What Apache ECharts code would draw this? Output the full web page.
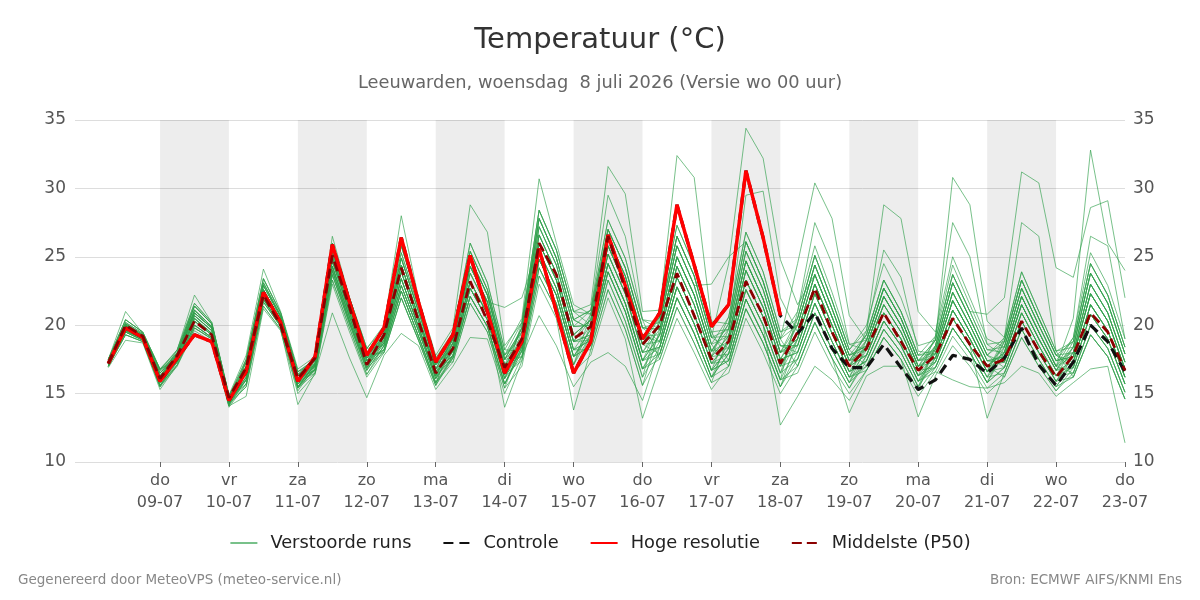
<!DOCTYPE html>
<html>
<head>
<meta charset="utf-8">
<title>Temperatuur</title>
<script src="https://cdn.jsdelivr.net/npm/echarts@6/dist/echarts.min.js"></script>
<style>
html, body { margin: 0; padding: 0; background: #fff; }
#main { width: 1200px; height: 600px; }
</style>
</head>
<body>
<div id="main"></div>
<script>
// tijdstappen in uren t.o.v. do 09-07 00 uur (6-uurlijks)
var hours = [-18, -12, -6, 0, 6, 12, 18, 24, 30, 36, 42, 48, 54, 60, 66, 72, 78, 84, 90, 96,
	102, 108, 114, 120, 126, 132, 138, 144, 150, 156, 162, 168, 174, 180, 186, 192, 198, 204, 210, 216,
	222, 228, 234, 240, 246, 252, 258, 264, 270, 276, 282, 288, 294, 300, 306, 312, 318, 324, 330, 336];

// x-as labels
var tickHours = [0, 24, 48, 72, 96, 120, 144, 168, 192, 216, 240, 264, 288, 312, 336];
var dayNames = ['do', 'vr', 'za', 'zo', 'ma', 'di', 'wo', 'do', 'vr', 'za', 'zo', 'ma', 'di', 'wo', 'do'];
var dayDates = ['09-07', '10-07', '11-07', '12-07', '13-07', '14-07', '15-07', '16-07', '17-07', '18-07',
	'19-07', '20-07', '21-07', '22-07', '23-07'];
// grijze dagen (start in uren)
var shadedDays = [0, 48, 96, 144, 192, 240, 288];

// hoge resolutie (tot 18-07)
var hres = [17.2, 19.8, 19.1, 15.9, 17.6, 19.3, 18.8, 14.5, 16.6, 22.4, 20.2, 15.9, 17.7, 25.9, 21.7, 17.8,
	19.8, 26.4, 21.7, 17.3, 19.3, 25.1, 21.0, 16.5, 18.8, 25.6, 21.0, 16.5, 18.8, 26.6, 22.9, 19.0,
	20.9, 28.8, 24.4, 19.9, 21.5, 31.3, 26.4, 20.7];

// controle run
var control = [17.2, 19.8, 19.1, 15.9, 17.6, 19.3, 18.8, 14.5, 16.6, 22.4, 20.2, 15.9, 17.7, 25.9, 21.7, 17.8,
	19.8, 26.4, 21.7, 17.3, 19.3, 25.1, 21.0, 16.5, 18.8, 25.6, 21.0, 16.5, 18.8, 26.6, 22.9, 19.0,
	20.9, 28.8, 24.4, 19.9, 21.5, 31.3, 26.4, 20.7, 19.4, 20.9, 18.3, 16.9, 16.9, 18.6, 16.9, 15.3,
	16.0, 17.8, 17.5, 16.5, 17.6, 19.8, 17.1, 15.6, 17.3, 20.0, 18.8, 16.6];

// mediaan van de pluim
var p50 = [17.2, 20.0, 19.2, 16.1, 17.8, 20.3, 19.3, 14.7, 16.9, 22.2, 20.0, 16.1, 17.6, 25.1, 21.3, 17.1,
	19.3, 24.2, 20.3, 16.5, 18.3, 23.2, 20.3, 16.9, 19.0, 26.0, 23.7, 19.0, 19.9, 26.5, 22.6, 18.6,
	20.0, 23.8, 20.7, 17.5, 18.8, 23.2, 20.7, 17.2, 19.5, 22.7, 19.5, 17.0, 18.3, 20.9, 18.8, 16.7,
	17.8, 20.5, 18.6, 17.0, 17.5, 20.3, 18.1, 16.2, 17.8, 20.9, 19.5, 16.7];

// verstoorde runs
var run01 = [17.3, 19.9, 19.2, 16.2, 17.5, 20.5, 19.4, 14.4, 16.8, 22.6, 20.4, 16.1, 17.5, 25.6, 21.7, 18.0,
	19.8, 25.8, 21.7, 17.6, 19.2, 25.4, 22.6, 17.8, 19.5, 27.2, 24.4, 19.9, 20.0, 25.8, 22.9, 18.6,
	21.1, 32.4, 30.8, 20.3, 20.1, 26.1, 23.2, 19.0, 20.0, 24.4, 21.2, 17.8, 18.5, 22.1, 20.0, 17.0,
	17.9, 21.8, 19.5, 17.0, 18.0, 22.1, 19.5, 17.0, 18.4, 23.8, 21.6, 17.9];
var run02 = [17.1, 19.6, 19.0, 15.8, 17.7, 20.7, 19.6, 14.5, 16.2, 22.2, 20.2, 15.7, 16.7, 23.7, 20.1, 16.7,
	18.5, 22.9, 19.6, 16.1, 18.1, 23.2, 20.8, 16.4, 19.1, 26.6, 23.8, 19.3, 20.4, 26.4, 23.6, 19.2,
	20.6, 26.5, 23.6, 19.1, 24.5, 34.4, 32.2, 24.8, 21.5, 23.7, 20.6, 17.4, 17.8, 20.9, 19.0, 16.3,
	17.3, 20.5, 18.5, 16.2, 16.5, 19.7, 17.5, 15.5, 17.3, 21.5, 19.6, 16.2];
var run03 = [17.4, 20.1, 19.3, 16.5, 17.8, 20.9, 19.8, 14.6, 16.5, 22.4, 20.3, 15.9, 17.2, 25.0, 21.2, 17.6,
	18.9, 23.9, 20.3, 16.6, 17.8, 22.7, 20.4, 16.1, 17.7, 24.2, 21.6, 17.1, 19.3, 24.5, 21.6, 17.4,
	18.4, 22.8, 20.1, 16.7, 17.4, 21.9, 19.3, 16.0, 18.5, 22.3, 19.4, 16.6, 18.5, 22.1, 20.0, 17.0,
	18.9, 23.7, 21.0, 20.8, 22.0, 31.2, 30.4, 24.2, 23.5, 28.6, 29.1, 22.0];
var run04 = [17.0, 19.5, 18.9, 15.6, 17.4, 20.3, 19.3, 14.3, 16.5, 22.4, 20.3, 15.9, 17.0, 24.3, 20.6, 17.1,
	19.1, 24.4, 20.6, 16.8, 19.0, 24.9, 22.2, 17.5, 19.8, 27.8, 24.9, 20.4, 21.1, 27.7, 24.9, 20.4,
	19.7, 25.0, 22.2, 18.1, 18.8, 24.0, 21.3, 17.5, 18.0, 21.6, 18.8, 16.2, 17.0, 19.7, 18.0, 15.5,
	17.6, 21.1, 19.0, 16.6, 18.0, 22.1, 19.5, 17.0, 20.5, 32.8, 26.0, 24.0];
var run05 = [17.3, 20.0, 19.2, 16.3, 17.9, 21.1, 19.9, 14.7, 17.3, 23.1, 20.7, 16.4, 17.1, 24.7, 20.9, 17.4,
	18.7, 23.4, 19.9, 16.3, 17.6, 22.1, 19.9, 15.7, 18.1, 24.8, 22.2, 17.7, 19.7, 25.2, 22.3, 18.0,
	20.2, 25.8, 22.9, 18.6, 19.2, 24.7, 21.9, 18.0, 20.5, 25.1, 21.8, 18.2, 19.6, 28.8, 27.8, 21.0,
	19.5, 25.0, 22.0, 19.0, 18.4, 22.7, 20.0, 17.4, 17.7, 22.3, 20.3, 16.8];
var run06 = [17.2, 19.7, 19.1, 16.0, 17.3, 20.0, 19.1, 14.2, 15.5, 21.4, 19.7, 14.2, 16.5, 23.3, 19.8, 16.4,
	18.2, 22.5, 19.2, 15.8, 17.3, 21.6, 19.5, 15.4, 17.0, 23.0, 20.5, 13.8, 18.2, 22.6, 19.7, 15.6,
	17.9, 22.0, 19.4, 16.2, 17.9, 22.6, 20.0, 12.7, 14.8, 17.0, 16.0, 14.5, 16.7, 19.1, 17.5, 13.3,
	16.3, 18.5, 17.0, 15.0, 16.2, 19.1, 17.0, 15.2, 16.5, 20.0, 18.3, 15.1];
var run07 = [17.5, 21.0, 19.4, 16.7, 18.2, 21.6, 20.2, 14.9, 17.0, 22.9, 20.6, 16.3, 17.7, 26.0, 22.0, 18.3,
	20.0, 28.0, 22.0, 17.8, 19.8, 28.8, 26.8, 18.5, 20.2, 28.4, 25.5, 21.0, 20.8, 27.0, 24.2, 19.8,
	19.7, 25.0, 22.2, 18.1, 18.3, 23.3, 20.6, 17.0, 19.0, 23.0, 20.0, 17.0, 18.9, 22.7, 20.5, 17.4,
	18.2, 22.4, 20.0, 17.4, 17.7, 21.5, 19.0, 16.7, 16.9, 20.8, 19.0, 15.7];
var run08 = [17.0, 19.3, 18.8, 15.5, 17.3, 20.0, 19.1, 14.2, 16.0, 21.9, 20.0, 15.5, 16.8, 24.0, 20.3, 16.9,
	18.0, 22.0, 18.9, 15.6, 17.6, 22.1, 19.9, 15.7, 18.4, 25.4, 22.7, 18.2, 18.9, 23.9, 21.0, 16.8,
	18.8, 23.5, 20.8, 17.2, 18.8, 24.0, 21.3, 17.5, 20.0, 24.4, 21.2, 17.8, 19.3, 23.3, 21.0, 17.8,
	18.2, 22.4, 20.0, 17.4, 17.3, 20.9, 18.5, 16.3, 16.9, 20.8, 19.0, 15.7];
var run09 = [17.5, 20.4, 19.5, 16.8, 18.0, 21.4, 20.1, 14.8, 17.5, 23.4, 20.9, 16.6, 17.2, 25.0, 21.2, 17.6,
	19.3, 24.9, 21.0, 17.1, 18.7, 24.3, 21.7, 21.3, 22.0, 26.0, 23.3, 18.8, 18.9, 23.9, 21.0, 16.8,
	17.5, 21.3, 18.7, 15.8, 16.5, 20.5, 18.0, 15.0, 17.0, 20.2, 17.6, 15.4, 17.4, 20.3, 18.5, 15.9,
	17.6, 21.1, 19.0, 16.6, 16.9, 20.3, 18.0, 15.9, 16.2, 19.3, 17.7, 14.6];
var run10 = [17.3, 19.9, 19.2, 16.2, 17.8, 20.9, 19.8, 14.6, 16.5, 22.4, 20.3, 15.9, 17.0, 24.3, 20.6, 17.1,
	18.9, 23.9, 20.3, 16.6, 18.7, 24.3, 21.7, 17.1, 18.8, 26.0, 23.3, 18.8, 19.3, 24.5, 21.6, 17.4,
	19.3, 24.3, 21.5, 17.7, 19.2, 24.7, 21.9, 18.0, 19.0, 23.0, 20.0, 17.0, 17.8, 20.9, 19.0, 16.3,
	17.9, 21.8, 19.5, 17.0, 18.0, 22.1, 19.5, 17.0, 17.7, 22.3, 20.3, 16.8];
var run11 = [17.1, 19.6, 19.0, 15.8, 17.5, 20.5, 19.4, 14.4, 15.7, 21.7, 19.9, 15.4, 16.8, 24.0, 20.3, 16.9,
	18.7, 23.4, 19.9, 16.3, 18.4, 23.8, 21.3, 16.8, 18.1, 24.8, 22.2, 17.7, 18.5, 23.3, 20.3, 16.2,
	18.4, 22.8, 20.1, 16.7, 18.3, 23.3, 20.6, 17.0, 19.5, 23.7, 20.6, 17.4, 18.2, 21.5, 19.5, 16.7,
	18.5, 23.1, 20.5, 17.8, 18.8, 23.3, 20.5, 17.8, 18.0, 23.0, 20.9, 17.3];
var run12 = [17.3, 20.0, 19.2, 16.3, 17.7, 20.7, 19.6, 14.5, 17.0, 22.9, 20.6, 16.3, 17.4, 25.3, 21.5, 17.8,
	19.1, 24.4, 20.6, 16.8, 18.1, 23.2, 20.8, 16.4, 19.1, 26.6, 23.8, 19.3, 20.4, 26.4, 23.6, 19.2,
	20.6, 26.5, 23.6, 19.1, 19.7, 25.4, 22.6, 18.5, 18.5, 22.3, 19.4, 16.6, 17.4, 20.3, 18.5, 15.9,
	16.9, 19.8, 18.0, 15.8, 16.9, 20.3, 18.0, 15.9, 17.3, 21.5, 19.6, 16.2];
var run13 = [17.0, 19.5, 18.9, 15.6, 17.1, 19.8, 19.0, 14.1, 16.0, 21.9, 20.0, 15.5, 16.7, 23.7, 20.1, 16.7,
	18.5, 22.9, 19.6, 16.1, 17.8, 22.7, 20.4, 14.0, 17.4, 23.6, 21.1, 16.6, 17.8, 22.0, 19.0, 13.2,
	17.0, 20.5, 18.0, 15.3, 17.0, 21.2, 18.7, 15.5, 18.0, 21.6, 18.8, 16.2, 18.2, 21.5, 19.5, 16.7,
	18.2, 22.4, 20.0, 17.4, 17.7, 21.5, 19.0, 16.7, 18.4, 23.8, 21.6, 17.9];
var run14 = [17.4, 20.1, 19.3, 16.5, 18.0, 21.4, 20.1, 14.8, 16.8, 22.6, 20.4, 16.1, 17.5, 25.6, 21.7, 18.0,
	19.3, 24.9, 21.0, 17.1, 19.0, 24.9, 22.2, 17.5, 19.8, 27.8, 24.9, 20.4, 21.1, 27.7, 24.9, 20.4,
	20.2, 25.8, 22.9, 23.0, 25.0, 26.1, 23.2, 19.0, 21.0, 25.8, 22.4, 18.6, 18.9, 22.7, 20.5, 17.4,
	17.9, 21.8, 19.5, 17.0, 17.3, 20.9, 18.5, 16.3, 16.5, 20.0, 18.3, 15.1];
var run15 = [17.2, 19.7, 19.1, 16.0, 17.4, 20.3, 19.3, 14.3, 16.2, 22.2, 20.2, 15.7, 17.0, 24.3, 20.6, 17.1,
	18.2, 22.5, 19.2, 15.8, 17.6, 22.1, 19.9, 15.7, 18.1, 24.8, 22.2, 17.7, 19.3, 24.5, 21.6, 17.4,
	19.3, 24.3, 21.5, 17.7, 17.9, 22.6, 20.0, 16.5, 17.5, 20.9, 18.2, 15.8, 17.0, 19.7, 18.0, 15.5,
	17.3, 20.5, 18.5, 13.2, 16.5, 19.7, 17.5, 15.5, 16.2, 19.3, 17.7, 14.6];
var run16 = [17.5, 20.2, 19.4, 16.7, 17.9, 21.1, 19.9, 14.7, 17.3, 23.1, 20.7, 16.4, 17.4, 25.3, 21.5, 17.8,
	19.6, 25.3, 21.3, 17.3, 19.2, 25.4, 22.6, 17.8, 20.2, 28.4, 25.5, 21.0, 21.5, 31.6, 29.6, 21.0,
	21.1, 27.3, 24.3, 19.5, 19.7, 29.5, 29.8, 22.0, 19.5, 23.7, 20.6, 17.4, 19.3, 23.3, 21.0, 17.8,
	19.2, 24.4, 21.5, 18.6, 18.8, 23.3, 20.5, 17.8, 18.8, 24.5, 22.2, 18.4];
var run17 = [17.0, 19.3, 18.8, 15.5, 17.0, 19.6, 18.8, 14.0, 15.7, 21.7, 19.9, 15.4, 16.5, 20.9, 17.6, 14.7,
	17.8, 19.4, 18.5, 15.3, 17.0, 19.1, 19.0, 15.0, 17.7, 20.7, 18.5, 15.5, 17.3, 18.0, 17.0, 14.5,
	18.4, 22.8, 20.1, 16.7, 17.4, 21.9, 19.3, 16.0, 17.0, 20.2, 17.6, 13.6, 16.3, 17.0, 17.0, 14.8,
	16.6, 16.0, 15.5, 15.4, 15.8, 17.0, 16.5, 14.8, 15.8, 16.8, 17.0, 11.4];
var run18 = [17.3, 20.0, 19.2, 16.3, 17.9, 21.1, 19.9, 14.7, 16.8, 22.6, 20.4, 16.1, 17.1, 24.7, 20.9, 17.4,
	18.7, 23.4, 19.9, 16.3, 18.7, 24.3, 21.7, 17.1, 18.4, 25.4, 22.7, 18.2, 18.9, 23.9, 21.0, 16.8,
	17.9, 22.0, 19.4, 16.2, 17.9, 22.6, 20.0, 16.5, 19.0, 23.0, 20.0, 17.0, 18.5, 22.1, 20.0, 17.0,
	17.6, 21.1, 19.0, 16.6, 17.7, 21.5, 19.0, 16.7, 18.0, 23.0, 20.9, 17.3];
var run19 = [17.2, 19.7, 19.1, 16.0, 17.7, 20.7, 19.6, 14.5, 16.0, 21.9, 20.0, 15.5, 17.1, 24.7, 20.9, 17.4,
	19.1, 24.4, 20.6, 16.8, 19.0, 24.9, 22.2, 17.5, 19.5, 27.2, 24.4, 19.9, 20.0, 25.8, 22.9, 18.6,
	18.8, 23.5, 20.8, 17.2, 17.4, 21.9, 19.3, 16.0, 16.5, 19.5, 17.0, 15.0, 16.7, 19.1, 17.5, 15.2,
	16.9, 19.8, 18.0, 15.8, 16.9, 20.3, 18.0, 15.9, 17.7, 22.3, 20.3, 16.8];
var run20 = [17.5, 20.4, 19.5, 16.8, 18.2, 22.2, 20.2, 14.9, 17.8, 24.1, 21.0, 16.8, 17.7, 26.0, 22.0, 18.3,
	19.8, 25.8, 21.7, 17.6, 19.5, 26.0, 23.1, 18.2, 20.5, 30.7, 26.0, 21.5, 20.8, 27.0, 24.2, 19.8,
	20.2, 25.8, 22.9, 18.6, 20.6, 26.8, 23.9, 19.5, 20.5, 25.1, 21.8, 18.2, 20.0, 24.5, 22.0, 18.5,
	18.9, 30.8, 28.8, 20.3, 19.1, 23.9, 21.0, 18.1, 18.8, 24.5, 22.2, 18.4];
var run21 = [17.1, 19.6, 19.0, 15.8, 17.3, 20.0, 19.1, 14.2, 16.2, 22.2, 20.2, 15.7, 16.8, 24.0, 20.3, 16.9,
	18.9, 23.9, 20.3, 16.6, 18.1, 23.2, 20.8, 16.4, 18.1, 24.8, 22.2, 17.7, 19.7, 25.2, 22.3, 18.0,
	19.7, 25.0, 22.2, 18.1, 20.1, 26.1, 23.2, 19.0, 24.5, 30.4, 27.8, 20.7, 18.9, 22.7, 20.5, 17.4,
	18.9, 23.7, 21.0, 18.2, 18.4, 22.7, 20.0, 17.4, 19.1, 25.3, 22.9, 19.0];
var run22 = [17.3, 19.9, 19.2, 16.2, 17.8, 20.9, 19.8, 14.6, 17.0, 22.9, 20.6, 16.3, 17.2, 25.0, 21.2, 17.6,
	19.3, 24.9, 21.0, 17.1, 18.4, 23.8, 21.3, 16.8, 19.1, 26.6, 23.8, 19.3, 20.4, 26.4, 23.6, 19.2,
	19.3, 24.3, 21.5, 17.7, 19.2, 24.7, 21.9, 18.0, 18.5, 22.3, 19.4, 16.6, 17.4, 20.3, 18.5, 15.9,
	16.6, 19.2, 17.5, 15.4, 16.5, 19.7, 17.5, 15.5, 17.3, 21.5, 19.6, 16.2];
var run23 = [17.4, 20.1, 19.3, 16.5, 18.0, 21.4, 20.1, 14.8, 17.5, 23.4, 20.9, 16.6, 17.5, 25.6, 21.7, 18.0,
	19.1, 24.4, 20.6, 16.8, 19.0, 24.9, 22.2, 17.5, 18.8, 26.0, 23.3, 18.8, 19.3, 24.5, 21.6, 17.4,
	17.9, 22.0, 19.4, 16.2, 17.0, 21.2, 18.7, 15.5, 17.5, 20.9, 18.2, 15.8, 17.8, 20.9, 19.0, 16.3,
	17.3, 20.5, 18.5, 16.2, 17.7, 21.5, 19.0, 16.7, 17.3, 21.5, 19.6, 16.2];
var run24 = [16.9, 18.9, 18.7, 15.3, 17.1, 19.8, 19.0, 14.1, 14.8, 21.2, 19.6, 15.0, 16.4, 23.0, 19.5, 16.2,
	18.0, 22.0, 18.9, 15.6, 17.8, 22.7, 20.4, 16.1, 18.4, 25.4, 22.7, 18.2, 20.0, 25.8, 22.9, 18.6,
	20.6, 26.5, 23.6, 19.1, 19.2, 24.7, 21.9, 18.0, 20.0, 24.4, 21.2, 17.8, 18.5, 22.1, 20.0, 17.0,
	18.5, 23.1, 20.5, 17.8, 19.1, 23.9, 21.0, 18.1, 18.4, 23.8, 21.6, 17.9];
var run25 = [17.3, 19.9, 19.2, 16.2, 17.4, 20.3, 19.3, 14.3, 16.8, 22.6, 20.4, 16.1, 17.0, 24.3, 20.6, 17.1,
	19.3, 24.9, 21.0, 17.1, 18.4, 23.8, 21.3, 16.8, 19.8, 27.8, 24.9, 20.4, 19.7, 25.2, 22.3, 18.0,
	18.4, 22.8, 20.1, 16.7, 18.3, 23.3, 20.6, 17.0, 19.5, 23.7, 20.6, 17.4, 19.3, 23.3, 21.0, 17.8,
	17.9, 21.8, 19.5, 17.0, 18.4, 22.7, 20.0, 17.4, 18.0, 23.0, 20.9, 17.3];
var run26 = [17.0, 19.5, 18.9, 15.6, 17.5, 20.5, 19.4, 14.4, 16.0, 21.9, 20.0, 15.5, 17.1, 24.7, 20.9, 17.4,
	18.2, 22.5, 19.2, 15.8, 18.7, 24.3, 21.7, 17.1, 17.7, 24.2, 21.6, 17.1, 20.8, 27.0, 24.2, 19.8,
	19.7, 25.0, 22.2, 18.1, 19.7, 25.4, 22.6, 18.5, 18.5, 22.3, 19.4, 16.6, 17.4, 20.3, 18.5, 15.9,
	18.2, 22.4, 20.0, 17.4, 17.3, 20.9, 18.5, 16.3, 17.7, 22.3, 20.3, 16.8];
var run27 = [17.5, 20.2, 19.4, 16.7, 17.8, 20.9, 19.8, 14.6, 16.5, 22.4, 20.3, 15.9, 16.8, 24.0, 20.3, 16.9,
	18.7, 23.4, 19.9, 16.3, 19.2, 25.4, 22.6, 17.8, 19.1, 26.6, 23.8, 19.3, 18.9, 23.9, 21.0, 16.8,
	19.3, 24.3, 21.5, 17.7, 20.6, 26.8, 23.9, 19.5, 20.0, 24.4, 21.2, 17.8, 18.2, 21.5, 19.5, 16.7,
	17.6, 21.1, 19.0, 16.6, 18.8, 23.3, 20.5, 17.8, 16.9, 20.8, 19.0, 15.7];
var run28 = [17.2, 19.7, 19.1, 16.0, 17.9, 21.1, 19.9, 14.7, 15.7, 21.7, 19.9, 15.4, 17.2, 25.0, 21.2, 17.6,
	18.9, 23.9, 20.3, 16.6, 17.8, 22.7, 20.4, 16.1, 20.2, 28.4, 25.5, 21.0, 20.0, 25.8, 22.9, 18.6,
	17.9, 22.0, 19.4, 16.2, 18.8, 24.0, 21.3, 17.5, 18.0, 21.6, 18.8, 16.2, 18.9, 22.7, 20.5, 17.4,
	18.9, 23.7, 21.0, 18.2, 18.0, 22.1, 19.5, 17.0, 19.1, 26.5, 25.8, 19.0];
var run29 = [17.3, 20.0, 19.2, 16.3, 17.3, 20.0, 19.1, 14.2, 17.3, 23.1, 20.7, 16.4, 17.7, 26.5, 22.0, 18.3,
	18.5, 22.9, 19.6, 16.1, 18.1, 23.2, 20.8, 16.4, 17.4, 23.6, 21.1, 16.6, 19.3, 24.5, 21.6, 17.4,
	20.2, 25.8, 22.9, 18.6, 17.0, 21.2, 18.7, 15.5, 19.0, 23.0, 20.0, 17.0, 17.8, 20.9, 19.0, 16.3,
	16.9, 19.8, 18.0, 15.8, 18.4, 22.7, 20.0, 17.4, 17.7, 22.3, 20.3, 16.8];
var run30 = [17.1, 19.6, 19.0, 15.8, 18.0, 21.4, 20.1, 14.8, 16.8, 22.6, 20.4, 16.1, 16.7, 23.7, 20.1, 16.7,
	19.6, 25.3, 21.3, 17.3, 17.3, 21.6, 19.5, 15.4, 18.8, 26.0, 23.3, 18.8, 20.4, 26.4, 23.6, 19.2,
	18.8, 23.5, 20.8, 17.2, 17.9, 22.6, 20.0, 16.5, 20.5, 25.1, 21.8, 18.2, 17.0, 19.7, 18.0, 15.5,
	18.5, 23.1, 20.5, 17.8, 16.9, 20.3, 18.0, 15.9, 18.0, 23.0, 20.9, 17.3];
var run31 = [17.4, 20.1, 19.3, 16.5, 17.7, 20.7, 19.6, 14.5, 16.2, 22.2, 20.2, 15.7, 17.4, 25.3, 21.5, 17.8,
	18.0, 22.0, 18.9, 15.6, 19.5, 26.0, 23.1, 18.2, 18.1, 24.8, 22.2, 17.7, 18.5, 23.3, 20.3, 16.2,
	20.6, 26.5, 23.6, 19.1, 18.3, 23.3, 20.6, 17.0, 17.5, 20.9, 18.2, 15.8, 18.5, 22.1, 20.0, 17.0,
	17.3, 20.5, 18.5, 16.2, 18.8, 23.3, 20.5, 17.8, 17.3, 21.5, 19.6, 16.2];
var run32 = [17.0, 19.3, 18.8, 15.5, 17.8, 20.9, 19.8, 14.6, 17.0, 22.9, 20.6, 16.3, 17.1, 24.7, 20.9, 17.4,
	19.1, 24.4, 20.6, 16.8, 18.1, 23.2, 20.8, 16.4, 19.5, 27.2, 24.4, 19.9, 21.1, 29.5, 26.5, 20.4,
	17.5, 21.3, 18.7, 15.8, 19.2, 24.7, 21.9, 18.0, 19.0, 23.0, 20.0, 17.0, 19.6, 25.5, 23.5, 18.1,
	17.9, 21.8, 19.5, 17.0, 16.2, 19.1, 17.0, 15.2, 16.9, 20.8, 19.0, 15.7];
var run33 = [17.5, 20.4, 19.5, 16.8, 17.4, 20.3, 19.3, 14.3, 15.5, 21.4, 19.7, 15.2, 17.0, 24.3, 20.6, 17.1,
	19.8, 25.8, 21.7, 17.6, 17.6, 22.1, 19.9, 15.7, 18.4, 25.4, 22.7, 18.2, 18.2, 22.6, 19.7, 15.6,
	19.7, 25.0, 22.2, 18.1, 20.1, 26.1, 23.2, 19.0, 17.0, 20.2, 17.6, 15.4, 17.8, 20.9, 19.0, 16.3,
	19.2, 27.5, 25.0, 18.6, 17.7, 21.5, 19.0, 16.7, 18.8, 24.5, 22.2, 18.4];
var run34 = [17.3, 19.9, 19.2, 16.2, 18.2, 21.6, 20.2, 14.9, 16.5, 22.4, 20.3, 15.9, 16.5, 23.3, 19.8, 16.4,
	18.5, 22.9, 19.6, 16.1, 19.0, 24.9, 22.2, 17.5, 17.7, 24.2, 21.6, 17.1, 20.0, 25.8, 22.9, 18.6,
	21.1, 27.3, 24.3, 19.5, 17.4, 21.9, 19.3, 16.0, 21.0, 27.5, 24.5, 18.6, 18.2, 21.5, 19.5, 16.7,
	16.9, 19.8, 18.0, 15.8, 18.0, 22.1, 19.5, 17.0, 16.5, 20.0, 18.3, 15.1];
var run35 = [17.0, 19.5, 18.9, 15.6, 17.1, 19.8, 19.0, 14.1, 17.5, 23.4, 20.9, 16.6, 17.5, 25.6, 21.7, 18.0,
	18.7, 23.4, 19.9, 16.3, 18.7, 24.3, 21.7, 17.1, 19.8, 27.8, 24.9, 20.4, 19.7, 25.2, 22.3, 18.0,
	18.4, 22.8, 20.1, 16.7, 19.7, 25.4, 22.6, 18.5, 18.0, 21.6, 18.8, 16.2, 16.7, 19.1, 17.5, 15.2,
	18.5, 23.1, 20.5, 17.8, 17.3, 20.9, 18.5, 16.3, 18.4, 23.8, 21.6, 17.9];
var run36 = [17.3, 20.0, 19.2, 16.3, 17.5, 20.5, 19.4, 14.4, 16.0, 21.9, 20.0, 15.5, 17.2, 25.0, 21.2, 17.6,
	18.2, 22.5, 19.2, 15.8, 17.8, 22.7, 20.4, 16.1, 18.8, 26.0, 23.3, 18.8, 20.8, 27.0, 24.2, 19.8,
	18.8, 23.5, 20.8, 17.2, 18.8, 24.0, 21.3, 17.5, 19.5, 23.7, 20.6, 17.4, 18.9, 22.7, 20.5, 17.4,
	17.6, 21.1, 19.0, 16.6, 19.1, 27.5, 26.5, 18.1, 16.2, 19.3, 17.7, 14.6];

var runs = [run01, run02, run03, run04, run05, run06, run07, run08, run09, run10, run11, run12,
	run13, run14, run15, run16, run17, run18, run19, run20, run21, run22, run23, run24,
	run25, run26, run27, run28, run29, run30, run31, run32, run33, run34, run35, run36];

var FONT = 'DejaVu Sans';

// koppel waarden aan tijdstappen
function pairs(values) {
	var out = [];
	for (var i = 0; i < values.length; i++) {
		out.push([hours[i], values[i]]);
	}
	return out;
}

var series = [];
// grijze achtergrond voor om-en-om dagen
series.push({
	type : 'line',
	data : [],
	silent : true,
	z : 1,
	markArea : {
		silent : true,
		itemStyle : { color : 'rgba(0,0,0,0.07)' },
		data : shadedDays.map(function(h) {
			return [ { xAxis : h }, { xAxis : h + 24 } ];
		})
	}
});
runs.forEach(function(r) {
	series.push({
		name : 'Verstoorde runs',
		type : 'line',
		data : pairs(r),
		symbol : 'none',
		silent : true,
		z : 2,
		lineStyle : { width : 1, color : '#30a04b', opacity : 0.65 },
		itemStyle : { color : '#30a04b' }
	});
});
series.push({
	name : 'Controle',
	type : 'line',
	data : pairs(control),
	symbol : 'none',
	z : 3,
	lineStyle : { width : 3.2, color : '#111', type : [ 10, 6 ] },
	itemStyle : { color : '#111' }
});
series.push({
	name : 'Hoge resolutie',
	type : 'line',
	data : pairs(hres),
	symbol : 'none',
	z : 4,
	lineStyle : { width : 3.5, color : '#ff0000' },
	itemStyle : { color : '#ff0000' }
});
series.push({
	name : 'Middelste (P50)',
	type : 'line',
	data : pairs(p50),
	symbol : 'none',
	z : 5,
	lineStyle : { width : 2.8, color : '#8b0000', type : [ 10, 5 ] },
	itemStyle : { color : '#8b0000' }
});

var option = {
	backgroundColor : '#fff',
	animation : false,
	textStyle : { fontFamily : FONT },
	title : [ {
		text : 'Temperatuur (°C)',
		left : 'center',
		top : 21,
		textStyle : { fontSize : 29, fontWeight : 'normal', color : '#333', fontFamily : FONT }
	}, {
		text : 'Leeuwarden, woensdag  8 juli 2026 (Versie wo 00 uur)',
		left : 'center',
		top : 69,
		textStyle : { fontSize : 17.8, fontWeight : 'normal', color : '#666', fontFamily : FONT }
	}, {
		text : 'Gegenereerd door MeteoVPS (meteo-service.nl)',
		left : 13,
		top : 568,
		textStyle : { fontSize : 13.5, fontWeight : 'normal', color : '#888', fontFamily : FONT }
	}, {
		text : 'Bron: ECMWF AIFS/KNMI Ens',
		right : 13,
		top : 568,
		textStyle : { fontSize : 13.5, fontWeight : 'normal', color : '#888', fontFamily : FONT }
	} ],
	legend : {
		data : [ 'Verstoorde runs', 'Controle', 'Hoge resolutie', 'Middelste (P50)' ],
		left : 'center',
		top : 529,
		itemWidth : 27,
		itemHeight : 14,
		itemGap : 31,
		itemStyle : { opacity : 0 },
		textStyle : { fontSize : 17.8, color : '#222', fontFamily : FONT, padding : [ 0, 0, 0, 8 ] }
	},
	grid : { left : 75, right : 75, top : 120, bottom : 138 },
	xAxis : {
		type : 'value',
		min : -29.6,
		max : 336,
		axisLine : { show : false },
		splitLine : { show : false },
		axisTick : {
			show : true,
			customValues : tickHours,
			length : 5,
			lineStyle : { color : '#666' }
		},
		axisLabel : {
			customValues : tickHours,
			fontSize : 16,
			color : '#555',
			lineHeight : 22,
			margin : 8,
			formatter : function(v) {
				var k = Math.round(v / 24);
				return dayNames[k] + '\n' + dayDates[k];
			}
		}
	},
	yAxis : [ {
		type : 'value',
		position : 'left',
		min : 10,
		max : 35,
		interval : 5,
		axisLine : { show : false },
		axisTick : { show : false },
		axisLabel : { fontSize : 17, color : '#555', margin : 9 },
		splitLine : { lineStyle : { color : '#ddd' } }
	}, {
		type : 'value',
		position : 'right',
		min : 10,
		max : 35,
		interval : 5,
		axisLine : { show : false },
		axisTick : { show : false },
		axisLabel : { fontSize : 17, color : '#555', margin : 8 },
		splitLine : { show : false }
	} ],
	series : series
};

var chart = echarts.init(document.getElementById('main'));
chart.setOption(option);
</script>
</body>
</html>
